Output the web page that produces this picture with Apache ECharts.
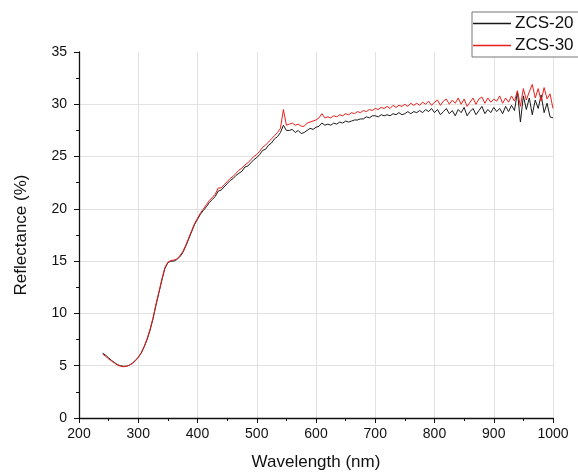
<!DOCTYPE html>
<html>
<head>
<meta charset="utf-8">
<script src="https://cdn.jsdelivr.net/npm/echarts@6/dist/echarts.min.js"></script>
<style>html,body{margin:0;padding:0;background:#fff;}#c{width:578px;height:473px;}</style>
</head>
<body>
<div id="c"></div>
<script>
const wavelength = [240,245,250,255,260,265,270,275,280,285,290,295,300,305,310,315,320,325,330,335,340,345,350,355,360,365,370,375,380,385,390,395,400,405,410,415,420,425,430,435,440,445,450,455,460,465,470,475,480,485,490,495,500,505,510,515,520,525,530,535,540,545,550,555,560,565,570,575,580,585,590,595,600,605,610,615,620,625,630,635,640,645,650,655,660,665,670,675,680,685,690,695,700,705,710,715,720,725,730,735,740,745,750,755,760,765,770,775,780,785,790,795,800,805,810,815,820,825,830,835,840,845,850,855,860,865,870,875,880,885,890,895,900,905,910,915,920,925,930,935,940,945,950,955,960,965,970,975,980,985,990,995,1000];

const zcs20 = [6.2,6.0,5.75,5.5,5.3,5.1,5.0,4.95,4.95,5.05,5.25,5.5,5.8,6.2,6.8,7.5,8.4,9.5,10.8,12.0,13.2,14.3,14.85,15.0,15.0,15.15,15.4,15.8,16.4,17.1,17.8,18.5,19.0,19.5,19.85,20.2,20.6,20.9,21.2,21.7,21.8,22.1,22.4,22.7,22.9,23.2,23.4,23.6,24.0,24.1,24.4,24.7,24.9,25.2,25.6,25.7,26.1,26.3,26.7,26.9,27.3,28.0,27.5,27.5,27.6,27.3,27.5,27.2,27.3,27.5,27.7,27.6,27.8,27.9,28.2,28.0,28.1,28.0,28.2,28.1,28.3,28.2,28.4,28.3,28.4,28.5,28.5,28.6,28.6,28.8,28.7,28.9,28.9,28.8,29.0,28.9,29.0,28.9,29.1,29.0,29.2,29.0,29.1,29.3,29.1,29.3,29.2,29.4,29.2,29.5,29.3,29.6,29.2,29.5,29.0,29.3,29.6,29.1,29.4,28.9,29.5,29.2,29.7,28.9,29.3,29.6,29.0,29.4,29.8,29.1,29.5,29.2,29.7,29.3,29.6,29.1,29.8,29.3,29.9,29.4,31.2,28.3,30.8,29.5,30.6,29.0,30.4,29.6,30.9,29.2,30.1,28.8,28.7];

const zcs30 = [6.1,5.9,5.65,5.45,5.25,5.05,4.95,4.9,4.95,5.05,5.2,5.45,5.8,6.25,6.85,7.6,8.5,9.6,10.9,12.1,13.3,14.4,14.9,15.05,15.1,15.2,15.5,15.9,16.5,17.2,17.9,18.6,19.1,19.6,20.0,20.4,20.8,21.1,21.4,22.0,22.0,22.3,22.6,22.9,23.1,23.4,23.7,23.9,24.2,24.4,24.7,25.0,25.2,25.5,25.9,26.1,26.4,26.7,27.0,27.3,27.7,29.5,28.0,28.1,28.2,28.0,28.1,27.9,27.9,28.2,28.3,28.4,28.5,28.7,29.1,28.7,28.8,28.7,28.9,28.8,29.0,28.9,29.1,29.0,29.2,29.1,29.3,29.2,29.4,29.3,29.5,29.4,29.6,29.5,29.7,29.6,29.8,29.6,29.9,29.7,29.9,29.8,30.0,29.8,30.1,29.9,30.1,29.9,30.2,30.0,30.3,29.9,30.2,30.4,29.9,30.3,30.5,30.0,30.4,30.1,30.6,30.0,30.5,29.8,30.2,30.6,30.0,30.5,30.7,30.1,30.6,30.2,30.5,30.3,30.8,30.1,30.6,30.2,30.8,30.3,31.3,29.8,31.5,30.4,31.2,31.9,30.6,31.5,30.3,31.6,30.5,31.0,29.6];

const seriesNames = ['ZCS-20', 'ZCS-30'];
const seriesColors = ['#1a1a1a', '#e8201c'];
const xTicks = {min: 200, max: 1000, interval: 100};
const yTicks = {min: 0, max: 35, interval: 5};

function pairs(xs, ys) { return xs.map((x, i) => [x, ys[i]]); }

const chart = echarts.init(document.getElementById('c'), null, {renderer: 'canvas'});
const font = 'Liberation Sans';
chart.setOption({
  backgroundColor: '#fff',
  animation: false,
  grid: {left: 79, right: 25, top: 52, bottom: 55, containLabel: false, outerBoundsMode: 'none'},
  legend: {
    orient: 'vertical', left: 472, top: 12,
    data: seriesNames.map((n, i) => ({name: n, itemStyle: {color: seriesColors[i]}})),
    icon: 'rect', itemWidth: 38, itemHeight: 1.5, itemGap: 5,
    padding: [3, 8, 3, 1],
    borderColor: '#777', borderWidth: 1, backgroundColor: '#fff',
    textStyle: {fontFamily: font, fontSize: 17, color: '#111', padding: [0, 0, 0, -1]}
  },
  xAxis: {
    type: 'value', min: xTicks.min, max: xTicks.max, interval: xTicks.interval,
    name: 'Wavelength (nm)', nameLocation: 'middle', nameGap: 36,
    nameTextStyle: {fontFamily: font, fontSize: 17, color: '#111'},
    axisLine: {show: true, onZero: false, lineStyle: {color: '#111', width: 1.3}},
    axisTick: {show: true, inside: false, length: 5, lineStyle: {color: '#111'}},
    minorTick: {show: true, splitNumber: 2, length: 3, lineStyle: {color: '#111'}},
    axisLabel: {fontFamily: font, fontSize: 14, color: '#111', margin: 9, formatter: v => String(v)},
    splitLine: {show: true, showMinLine: false, lineStyle: {color: '#e2e2e2', width: 1}}
  },
  yAxis: {
    type: 'value', min: yTicks.min, max: yTicks.max, interval: yTicks.interval,
    name: 'Reflectance (%)', nameLocation: 'middle', nameGap: 49, nameRotate: 90,
    nameTextStyle: {fontFamily: font, fontSize: 17, color: '#111'},
    axisLine: {show: true, onZero: false, lineStyle: {color: '#111', width: 1.3}},
    axisTick: {show: true, inside: false, length: 5, lineStyle: {color: '#111'}},
    minorTick: {show: true, splitNumber: 2, length: 3, lineStyle: {color: '#111'}},
    axisLabel: {fontFamily: font, fontSize: 14, color: '#111', margin: 12, formatter: v => String(v)},
    splitLine: {show: true, showMinLine: false, showMaxLine: false, lineStyle: {color: '#e2e2e2', width: 1}}
  },
  series: [
    {name: seriesNames[0], type: 'line', data: pairs(wavelength, zcs20), showSymbol: false, symbol: 'none',
     lineStyle: {color: seriesColors[0], width: 1}, itemStyle: {color: seriesColors[0]}},
    {name: seriesNames[1], type: 'line', data: pairs(wavelength, zcs30), showSymbol: false, symbol: 'none',
     lineStyle: {color: seriesColors[1], width: 1}, itemStyle: {color: seriesColors[1]}}
  ]
});
</script>
</body>
</html>
